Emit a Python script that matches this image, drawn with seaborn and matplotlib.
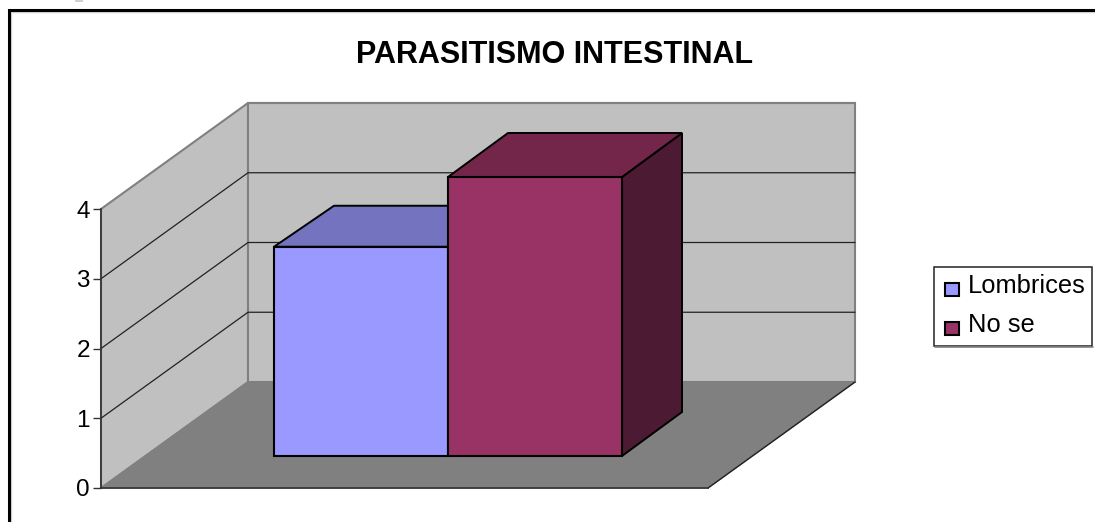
import matplotlib
matplotlib.use("Agg")
import matplotlib.pyplot as plt
from matplotlib.patches import Polygon, Rectangle
import seaborn as sns

# data
categorias = ["Lombrices", "No se"]
valores = [3, 4]
colores = ["#9999FF", "#993366"]
tapa = ["#7373BF", "#732649"]
lado = ["#4D4D80", "#4D1A33"]
yticks = [0, 1, 2, 3, 4]
titulo = "PARASITISMO INTESTINAL"

W, H = 1095, 522
sns.set_theme(style="white")
plt.rcParams["font.family"] = ["Liberation Sans", "DejaVu Sans"]

fig = plt.figure(figsize=(W / 100, H / 100), dpi=100, facecolor="white")


def caja(x0, x1, ytop, ybot):
    return [x0 / W, 1 - ybot / H, (x1 - x0) / W, (ybot - ytop) / H]


# fondo en pixeles: paredes, piso y marco
fondo = fig.add_axes([0, 0, 1, 1], zorder=0)
fondo.set_xlim(0, W)
fondo.set_ylim(H, 0)
fondo.axis("off")

prof_x, prof_y = 147, 106
izq, der, base, alto = 101, 708, 488, 279
# marco: solo arriba e izquierda
fondo.plot([10.5, 10.5], [11, H], color="#d4d4d4", lw=1)
fondo.plot([10, W], [11.5, 11.5], color="#d4d4d4", lw=1)
fondo.plot([8.5, 8.5, W], [H, 9.5, 9.5], color="black", lw=2.2, solid_joinstyle="miter")
fondo.add_patch(Rectangle((75, 0), 8, 1.5, fc="#d0d0d0", ec="none"))

pared_izq = [(izq, base), (izq, base - alto), (izq + prof_x, base - alto - prof_y), (izq + prof_x, base - prof_y)]
pared_fondo = [(izq + prof_x, base - prof_y), (izq + prof_x, base - alto - prof_y),
               (der + prof_x, base - alto - prof_y), (der + prof_x, base - prof_y)]
piso = [(izq, base), (der, base), (der + prof_x, base - prof_y), (izq + prof_x, base - prof_y)]
for p in (pared_izq, pared_fondo):
    fondo.add_patch(Polygon(p, fc="#C0C0C0", ec="#808080", lw=1.5))
fondo.add_patch(Polygon(piso, fc="#808080", ec="#808080", lw=1))
fondo.plot([der, der + prof_x], [base, base - prof_y], color="#222222", lw=1)

# ejes del plano frontal
ax = fig.add_axes(caja(izq, der, base - alto, base), zorder=1)
ax.patch.set_alpha(0)
ax.set_xlim(0, 1)
ax.set_ylim(0, 4)
ax.set_yticks(yticks)
ax.set_yticklabels([str(t) for t in yticks])
ax.set_xticks([])
ax.tick_params(axis="y", length=6, width=1, color="#333333", labelsize=17.5, pad=2,
               left=True, labelcolor="black")
sns.despine(ax=ax, top=True, right=True)
for s in ("left", "bottom"):
    ax.spines[s].set_color("#333333")
    ax.spines[s].set_linewidth(1.2)

# rejilla en perspectiva
for t in yticks[1:-1]:
    y = base - alto * t / yticks[-1]
    fondo.plot([izq, izq + prof_x, der + prof_x], [y, y - prof_y, y - prof_y], color="#222222", lw=0.9)
y = base - alto
fondo.plot([izq + prof_x, der + prof_x], [y - prof_y, y - prof_y], color="#808080", lw=1.5)

# barras
bx0, bx1, bbase = 274, 622, 456
bar_ax = fig.add_axes(caja(bx0, bx1, bbase - alto, bbase), zorder=2)
bar_ax.patch.set_alpha(0)
sns.barplot(x=categorias, y=valores, hue=categorias, palette=colores, width=1, dodge=False,
            legend=False, saturation=1, edgecolor="black", linewidth=1.5, ax=bar_ax)
bar_ax.set_xlim(-0.5, 1.5)
bar_ax.set_ylim(0, 4)
bar_ax.axis("off")
for b in bar_ax.patches:
    b.set_clip_on(False)

dx = 60
dys = [41, 44]
px_x = (bx1 - bx0) / 2
px_y = alto / 4
for i, v in enumerate(valores):
    x0 = bx0 + i * px_x
    x1 = x0 + px_x
    y1 = bbase - v * px_y
    dy = dys[i]
    top = Polygon([(x0, y1), (x1, y1), (x1 + dx, y1 - dy), (x0 + dx, y1 - dy)],
                  fc=tapa[i], ec="black", lw=1.4, zorder=3)
    side = Polygon([(x1, y1), (x1, bbase), (x1 + dx, bbase - dy), (x1 + dx, y1 - dy)],
                   fc=lado[i], ec="black", lw=1.4, zorder=3)
    fondo.add_patch(side)
    fondo.add_patch(top)

# titulo
fondo.text(555, 55, titulo, ha="center", va="center", fontsize=22, fontweight="bold", color="black")

# leyenda
fondo.add_patch(Rectangle((934, 267), 158, 79, fc="white", ec="#222222", lw=1.1))
fondo.plot([935, 1092.5], [346.5, 346.5], color="#808080", lw=1.2)
for i, nombre in enumerate(categorias):
    yc = 289 + i * 39.5
    fondo.add_patch(Rectangle((944.5, yc - 6.5), 14, 13, fc=colores[i], ec="black", lw=1.5))
    fondo.text(968, yc - 3, nombre, ha="left", va="center", fontsize=18.4, color="black")

fig.savefig("out.png", dpi=100)
